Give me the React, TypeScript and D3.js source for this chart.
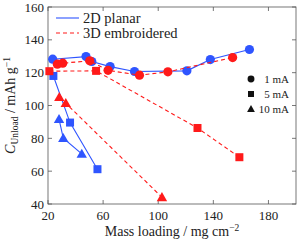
import React from "react";
import * as d3 from "d3";

// mass loading (mg cm^-2) and unload capacity (mAh g^-1)
const planar1x = [23.4, 47.6, 51.8, 65.1, 82.8, 120.8, 137.8, 166.2];
const planar1y = [128.2, 129.8, 126.8, 123.7, 120.7, 121.1, 128.0, 134.1];
const planar5x = [23.9, 36, 55.9];
const planar5y = [118, 89.6, 61.2];
const planar10x = [28.0, 31.1, 44.5];
const planar10y = [91.7, 80.1, 70.5];

const emb1x = [26.8, 30.7, 50.3, 63.6, 86.4, 107, 154];
const emb1y = [125.2, 125.8, 127.2, 121.4, 118.5, 120.5, 129.2];
const emb5x = [21, 54.9, 128.5, 158.9];
const emb5y = [120.9, 121.1, 86.3, 68.5];
const emb10x = [28.2, 32.9, 102.7];
const emb10y = [105.1, 101.4, 44.1];

const xTicks = [20, 60, 100, 140, 180];
const yTicks = [40, 60, 80, 100, 120, 140, 160];
const currents = ["1 mA", "5 mA", "10 mA"];

const BLUE = "#2f55ff";
const RED = "#ff1a1a";
const FONT = "Liberation Serif, Times New Roman, Times, DejaVu Serif, serif";

type Shape = "circle" | "square" | "triangle";

const Marker = ({ x, y, shape, color, s = 1 }: { x: number; y: number; shape: Shape; color: string; s?: number }) => {
  if (shape === "circle") return <circle cx={x} cy={y} r={4.6 * s} fill={color} />;
  if (shape === "square") return <rect x={x - 4 * s} y={y - 4 * s} width={8 * s} height={8 * s} fill={color} />;
  const h = 5.2 * s;
  return <path d={`M${x},${y - h}L${x + h},${y + h * 0.75}L${x - h},${y + h * 0.75}Z`} fill={color} />;
};

export default function App() {
  const W = 298, H = 241;
  const m = { l: 48, r: 2, t: 7, b: 37 };
  const x = d3.scaleLinear().domain([20, 200]).range([m.l, W - m.r]);
  const y = d3.scaleLinear().domain([40, 160]).range([H - m.b, m.t]);

  const series = [
    { xs: planar1x, ys: planar1y, shape: "circle" as Shape, color: BLUE, dash: "" },
    { xs: planar5x, ys: planar5y, shape: "square" as Shape, color: BLUE, dash: "" },
    { xs: planar10x, ys: planar10y, shape: "triangle" as Shape, color: BLUE, dash: "" },
    { xs: emb1x, ys: emb1y, shape: "circle" as Shape, color: RED, dash: "4,3" },
    { xs: emb5x, ys: emb5y, shape: "square" as Shape, color: RED, dash: "4,3" },
    { xs: emb10x, ys: emb10y, shape: "triangle" as Shape, color: RED, dash: "4,3" },
  ];

  const line = d3.line<[number, number]>().x((d) => x(d[0])).y((d) => y(d[1]));
  const x0 = m.l, x1 = W - m.r, y0 = H - m.b, y1 = m.t;
  const txt = { fontFamily: FONT, fill: "#222" };

  return (
    <svg width={W} height={H} style={{ position: "absolute", left: 0, top: 0 }}>
      <rect x={0} y={0} width={W} height={H} fill="#fff" />
      {/* frame and ticks */}
      <rect x={x0} y={y1} width={x1 - x0} height={y0 - y1} fill="none" stroke="#555" strokeWidth={0.8} />
      {xTicks.map((t) => (
        <g key={"x" + t}>
          <line x1={x(t)} x2={x(t)} y1={y0} y2={y0 - 4} stroke="#555" strokeWidth={0.8} />
          <line x1={x(t)} x2={x(t)} y1={y1} y2={y1 + 4} stroke="#555" strokeWidth={0.8} />
          <text x={x(t)} y={y0 + 16} textAnchor="middle" fontSize={13} style={txt}>{t}</text>
        </g>
      ))}
      {yTicks.map((t) => (
        <g key={"y" + t}>
          <line x1={x0} x2={x0 + 4} y1={y(t)} y2={y(t)} stroke="#555" strokeWidth={0.8} />
          <line x1={x1} x2={x1 - 4} y1={y(t)} y2={y(t)} stroke="#555" strokeWidth={0.8} />
          <text x={x0 - 4} y={y(t) + 4.5} textAnchor="end" fontSize={13} style={txt}>{t}</text>
        </g>
      ))}

      {/* series */}
      {series.map((s, i) => {
        const pts = s.xs.map((v, j) => [v, s.ys[j]] as [number, number]);
        return (
          <g key={i}>
            <path d={line(pts) || ""} fill="none" stroke={s.color} strokeWidth={1.1} strokeDasharray={s.dash || undefined} />
            {pts.map((p, j) => (
              <Marker key={j} x={x(p[0])} y={y(p[1])} shape={s.shape} color={s.color} />
            ))}
          </g>
        );
      })}

      {/* line legend */}
      <line x1={x0 + 8} x2={x0 + 31} y1={18} y2={18} stroke={BLUE} strokeWidth={1.1} />
      <text x={x0 + 35} y={22.5} fontSize={14.5} style={txt}>2D planar</text>
      <line x1={x0 + 8} x2={x0 + 31} y1={33} y2={33} stroke={RED} strokeWidth={1.1} strokeDasharray="4,3" />
      <text x={x0 + 35} y={37.5} fontSize={14.5} style={txt}>3D embroidered</text>

      {/* marker legend */}
      {currents.map((c, i) => (
        <g key={c}>
          <Marker x={251} y={79 + i * 15} shape={(["circle", "square", "triangle"] as Shape[])[i]} color="#111" s={0.75} />
          <text x={289} y={83 + i * 15} textAnchor="end" fontSize={11} style={txt}>{c}</text>
        </g>
      ))}

      {/* axis labels */}
      <text x={(x0 + x1) / 2} y={236} textAnchor="middle" fontSize={14} style={txt}>
        Mass loading / mg cm<tspan dy={-5} fontSize={9.5}>−2</tspan>
      </text>
      <text transform={`translate(15,${(y0 + y1) / 2}) rotate(-90)`} textAnchor="middle" fontSize={14} style={txt}>
        <tspan fontStyle="italic">C</tspan>
        <tspan dy={3} fontSize={9.5}>Unload</tspan>
        <tspan dy={-3}> / mAh g</tspan>
        <tspan dy={-5} fontSize={9.5}>−1</tspan>
      </text>
    </svg>
  );
}
